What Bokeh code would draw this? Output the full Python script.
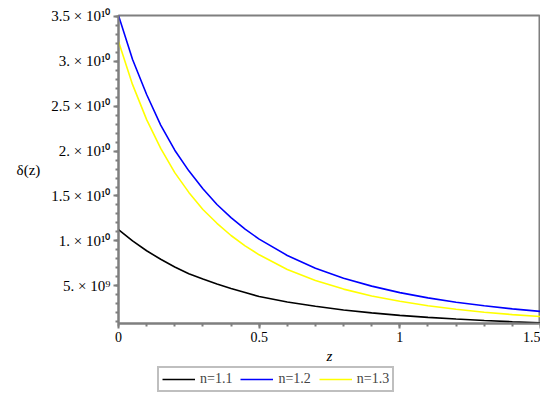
from bokeh.plotting import figure
from bokeh.layouts import column
from bokeh.models import Range1d, FixedTicker, Legend, LegendItem
from bokeh.embed import file_html
from bokeh.resources import INLINE

# redshift samples
z = [0.0, 0.05, 0.1, 0.15, 0.2, 0.25, 0.3, 0.35, 0.4, 0.45, 0.5,
     0.6, 0.7, 0.8, 0.9, 1.0, 1.1, 1.2, 1.3, 1.4, 1.5]

# delta(z) values (units of 1e9)
delta_n11 = [11.25, 10.0, 8.9, 7.95, 7.1, 6.35, 5.75, 5.2, 4.7, 4.25, 3.8,
             3.2, 2.72, 2.31, 1.98, 1.71, 1.48, 1.3, 1.14, 1.0, 0.88]
delta_n12 = [35.1, 30.2, 26.3, 22.9, 20.1, 17.8, 15.8, 14.05, 12.6, 11.3, 10.2,
             8.38, 6.96, 5.84, 4.96, 4.24, 3.65, 3.17, 2.77, 2.43, 2.15]
delta_n13 = [32.2, 27.4, 23.5, 20.3, 17.6, 15.4, 13.5, 11.96, 10.6, 9.45, 8.45,
             6.82, 5.59, 4.63, 3.87, 3.27, 2.78, 2.39, 2.06, 1.79, 1.57]

series_labels = ["n=1.1", "n=1.2", "n=1.3"]
series_colors = ["#000000", "#0000ff", "#ffff00"]

x_ticks = [0, 0.5, 1, 1.5]
x_tick_labels = ["0", "0.5", "1", "1.5"]
y_ticks = [5e9, 1e10, 1.5e10, 2e10, 2.5e10, 3e10, 3.5e10]
y_tick_labels = ["5. \u00d7 10\u2079", "1. \u00d7 10\u00b9\u2070", "1.5 \u00d7 10\u00b9\u2070",
                 "2. \u00d7 10\u00b9\u2070", "2.5 \u00d7 10\u00b9\u2070", "3. \u00d7 10\u00b9\u2070",
                 "3.5 \u00d7 10\u00b9\u2070"]

FONT = "Liberation Serif"
GRAY = "#7f7f7f"

p = figure(width=540, height=366, output_backend="svg", toolbar_location=None,
           x_range=Range1d(0, 1.5), y_range=Range1d(0.8e9, 35.1e9),
           min_border_left=118, min_border_top=15, min_border_right=0, min_border_bottom=43)
p.grid.visible = False
p.outline_line_color = GRAY
p.outline_line_width = 2
p.background_fill_color = "white"
p.border_fill_color = "white"

series = [delta_n11, delta_n12, delta_n13]
for vals, col in zip(series, series_colors):
    p.line(z, [v * 1e9 for v in vals], line_color=col, line_width=1.6)

xa = p.xaxis[0]
xa.ticker = FixedTicker(ticks=x_ticks, minor_ticks=[i / 10 for i in range(16)])
xa.major_label_overrides = {t: l for t, l in zip(x_ticks, x_tick_labels)}
xa.axis_label = "z"
xa.axis_label_text_font = FONT
xa.axis_label_text_font_style = "italic"
xa.axis_label_text_font_size = "15px"
xa.axis_label_standoff = 3

ya = p.yaxis[0]
ya.ticker = FixedTicker(ticks=y_ticks, minor_ticks=[i * 1e9 for i in range(1, 36)])
ya.major_label_overrides = {t: l for t, l in zip(y_ticks, y_tick_labels)}
ya.axis_label = "\u03b4(z)"
ya.axis_label_orientation = "horizontal"
ya.axis_label_text_font = FONT
ya.axis_label_text_font_style = "normal"
ya.axis_label_text_font_size = "15px"
ya.axis_label_standoff = 8

for ax in (xa, ya):
    ax.axis_line_color = GRAY
    ax.axis_line_width = 2
    ax.major_tick_line_color = GRAY
    ax.minor_tick_line_color = GRAY
    ax.major_tick_line_width = 2
    ax.minor_tick_line_width = 2
    ax.major_tick_out = 5
    ax.major_tick_in = 0
    ax.minor_tick_out = 3
    ax.minor_tick_in = 0
    ax.major_label_text_font = FONT
    ax.major_label_text_color = "black"
    ax.axis_label_text_color = "black"
    ax.major_label_standoff = 3
xa.major_label_text_font_size = "14px"
ya.major_label_text_font_size = "15px"

# legend strip below the chart (same series, drawn outside its visible range)
lg = figure(width=540, height=30, output_backend="svg", toolbar_location=None,
            x_range=Range1d(10, 11), y_range=Range1d(10, 11),
            x_axis_location=None, y_axis_location=None, min_border=0)
lg.grid.visible = False
lg.outline_line_color = None
lg_renderers = []
for vals, col in zip(series, series_colors):
    lg_renderers.append(lg.line(z, [v * 1e9 for v in vals], line_color=col, line_width=1.6))

legend = Legend(items=[LegendItem(label=l, renderers=[r]) for l, r in zip(series_labels, lg_renderers)],
                orientation="horizontal", location=(39, 4),
                label_text_font=FONT, label_text_font_size="14px",
                glyph_width=33, glyph_height=14, label_standoff=5, spacing=8,
                padding=3, margin=0,
                border_line_color=GRAY, border_line_width=2,
                label_height=14)
lg.add_layout(legend, "center")

layout = column(p, lg, spacing=0)
open("out.html", "w").write(file_html(layout, INLINE))
